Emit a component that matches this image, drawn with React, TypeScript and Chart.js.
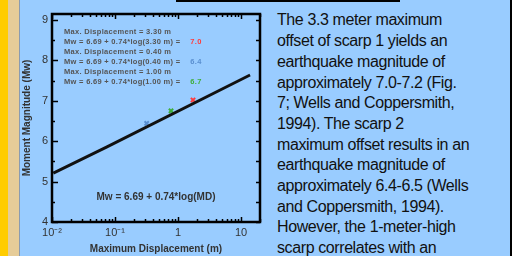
import React, { useEffect, useRef } from "react";
import { Chart, registerables } from "chart.js";

Chart.register(...registerables);

const xTickValues = [0.01, 0.1, 1, 10];
const xTickLabels = ["10\u207B\u00B2", "10\u207B\u00B9", "1", "10"];
const yTickValues = [4, 5, 6, 7, 8, 9];

const fitMD = [0.0105, 0.0746, 13.9];
const fitMw = [5.21, 5.86, 7.64];

const scarpNames = ["Scarp 1", "Scarp 2", "1-m scarp"];
const scarpMD = [1.73, 0.318, 0.774];
const scarpMw = [7.02, 6.44, 6.75];
const scarpColors = ["#ff3b3b", "#5a8fd0", "#3fae3a"];

const legendLines = [
  "Max. Displacement = 3.30 m",
  "Mw = 6.69 + 0.74*log(3.30 m) =",
  "Max. Displacement = 0.40 m",
  "Mw = 6.69 + 0.74*log(0.40 m) =",
  "Max. Displacement = 1.00 m",
  "Mw = 6.69 + 0.74*log(1.00 m) =",
];
const legendValues = ["7.0", "6.4", "6.7"];
const equation = "Mw = 6.69 + 0.74*log(MD)";

const bodyLines = [
  "The 3.3 meter maximum",
  "offset of scarp 1 yields an",
  "earthquake magnitude of",
  "approximately 7.0-7.2 (Fig.",
  "7; Wells and Coppersmith,",
  "1994). The scarp 2",
  "maximum offset results in an",
  "earthquake magnitude of",
  "approximately 6.4-6.5 (Wells",
  "and Coppersmith, 1994).",
  "However, the 1-meter-high",
  "scarp correlates with an",
];

const framePlugin = {
  id: "frame",
  afterDraw(chart: any) {
    const ctx = chart.ctx;
    const { left, top, right, bottom } = chart.chartArea;
    const xs = chart.scales.x;
    const ys = chart.scales.y;
    ctx.save();
    ctx.strokeStyle = "#000";
    ctx.lineWidth = 1.5;
    ctx.beginPath();
    for (let d = -2; d <= 1; d++) {
      for (let m = 1; m <= 9; m++) {
        const v = m * Math.pow(10, d);
        if (v < 0.01 || v > 20) continue;
        const px = Math.round(xs.getPixelForValue(v)) + 0.5;
        const len = m === 1 ? 5 : 3;
        ctx.moveTo(px, bottom);
        ctx.lineTo(px, bottom - len);
        ctx.moveTo(px, top);
        ctx.lineTo(px, top + len);
      }
    }
    for (let v = 4; v <= 9; v += 0.5) {
      const py = Math.round(ys.getPixelForValue(v)) + 0.5;
      const len = Number.isInteger(v) ? 6 : 3;
      ctx.moveTo(left, py);
      ctx.lineTo(left + len, py);
      ctx.moveTo(right, py);
      ctx.lineTo(right - 4, py);
    }
    ctx.stroke();
    ctx.lineWidth = 2.5;
    ctx.strokeRect(left, top, right - left, bottom - top);
    ctx.restore();
  },
};

function ChartView() {
  const ref = useRef<HTMLCanvasElement>(null);
  useEffect(() => {
    const fitData = fitMD.map((x, i) => ({ x, y: fitMw[i] }));
    const chart = new Chart(ref.current!, {
      type: "scatter",
      data: {
        datasets: [
          {
            label: "Regression",
            data: fitData,
            showLine: true,
            borderColor: "#111",
            borderWidth: 2.8,
            pointRadius: 0,
          } as any,
          ...scarpNames.map((name, i) => ({
            label: name,
            data: [{ x: scarpMD[i], y: scarpMw[i] }],
            pointStyle: "crossRot",
            pointRadius: 3,
            borderWidth: 2,
            borderColor: scarpColors[i],
            backgroundColor: scarpColors[i],
          })),
        ],
      },
      options: {
        animation: false,
        responsive: false,
        devicePixelRatio: 1,
        layout: { padding: { top: 14, right: 10, left: 0, bottom: 0 } },
        plugins: { legend: { display: false }, tooltip: { enabled: false } },
        scales: {
          x: {
            type: "logarithmic",
            min: 0.01,
            max: 20,
            grid: { display: false, drawTicks: false },
            border: { display: false },
            afterBuildTicks: (axis: any) => {
              axis.ticks = xTickValues.map((v) => ({ value: v }));
            },
            afterFit: (axis: any) => {
              axis.height = 34;
            },
            ticks: {
              autoSkip: false,
              maxRotation: 0,
              padding: 4,
              color: "#333",
              font: { family: "Arial", size: 11 },
              callback: (v: any) => {
                const i = xTickValues.indexOf(Number(v));
                return i >= 0 ? xTickLabels[i] : "";
              },
            },
            title: {
              display: true,
              text: "Maximum Displacement (m)",
              color: "#333",
              font: { family: "Arial", size: 10, weight: "bold" },
              padding: { top: 0, bottom: 1 },
            },
          },
          y: {
            min: 4,
            max: 9.15,
            grid: { display: false, drawTicks: false },
            border: { display: false },
            afterBuildTicks: (axis: any) => {
              axis.ticks = yTickValues.map((v) => ({ value: v }));
            },
            afterFit: (axis: any) => {
              axis.width = 32;
            },
            ticks: {
              padding: 4,
              color: "#333",
              font: { family: "Arial", size: 11 },
            },
            title: {
              display: true,
              text: "Moment Magnitude (Mw)",
              color: "#333",
              font: { family: "Arial", size: 10, weight: "bold" },
              padding: { top: 1, bottom: 0 },
            },
          },
        },
      },
      plugins: [framePlugin],
    });
    return () => chart.destroy();
  }, []);
  return (
    <canvas
      ref={ref}
      width={250}
      height={256}
      style={{ position: "absolute", left: 20, top: 0, width: 250, height: 256 }}
    />
  );
}

export default function App() {
  return (
    <div
      style={{
        position: "fixed",
        left: 0,
        top: 0,
        width: 512,
        height: 256,
        overflow: "hidden",
        background: "#99ccff",
        fontFamily: "Arial, 'Liberation Sans', sans-serif",
      }}
    >
      <div style={{ position: "absolute", left: 0, top: 0, width: 8, height: 256, background: "#ffcc00" }} />
      <div style={{ position: "absolute", left: 8, top: 0, width: 11, height: 256, background: "#e6cc98" }} />
      <div style={{ position: "absolute", left: 19, top: 0, width: 1, height: 256, background: "#8a9bb0" }} />
      <div style={{ position: "absolute", left: 176, top: 0, width: 224, height: 2, background: "#000" }} />
      <div style={{ position: "absolute", left: 510, top: 0, width: 2, height: 256, background: "#000" }} />
      <ChartView />
      {legendLines.map((t, i) => (
        <div
          key={i}
          style={{
            position: "absolute",
            left: 64,
            top: 27 + i * 10,
            fontSize: 7.5,
            lineHeight: "10px",
            fontWeight: "bold",
            letterSpacing: "0.3px",
            color: "#555",
            whiteSpace: "pre",
          }}
        >
          {t}
          {i % 2 === 1 ? (
            <span style={{ color: scarpColors[(i - 1) / 2], marginLeft: 10 }}>{legendValues[(i - 1) / 2]}</span>
          ) : null}
        </div>
      ))}
      <div
        style={{
          position: "absolute",
          left: 88,
          top: 191,
          width: 136,
          textAlign: "center",
          fontSize: 10,
          lineHeight: "12px",
          fontWeight: "bold",
          color: "#333",
          whiteSpace: "pre",
        }}
      >
        {equation}
      </div>
      <div
        style={{
          position: "absolute",
          left: 277,
          top: 10.4,
          fontSize: 16,
          lineHeight: "20.7px",
          letterSpacing: "-0.4px",
          color: "#111",
          whiteSpace: "pre",
        }}
      >
        {bodyLines.join("\n")}
      </div>
    </div>
  );
}
